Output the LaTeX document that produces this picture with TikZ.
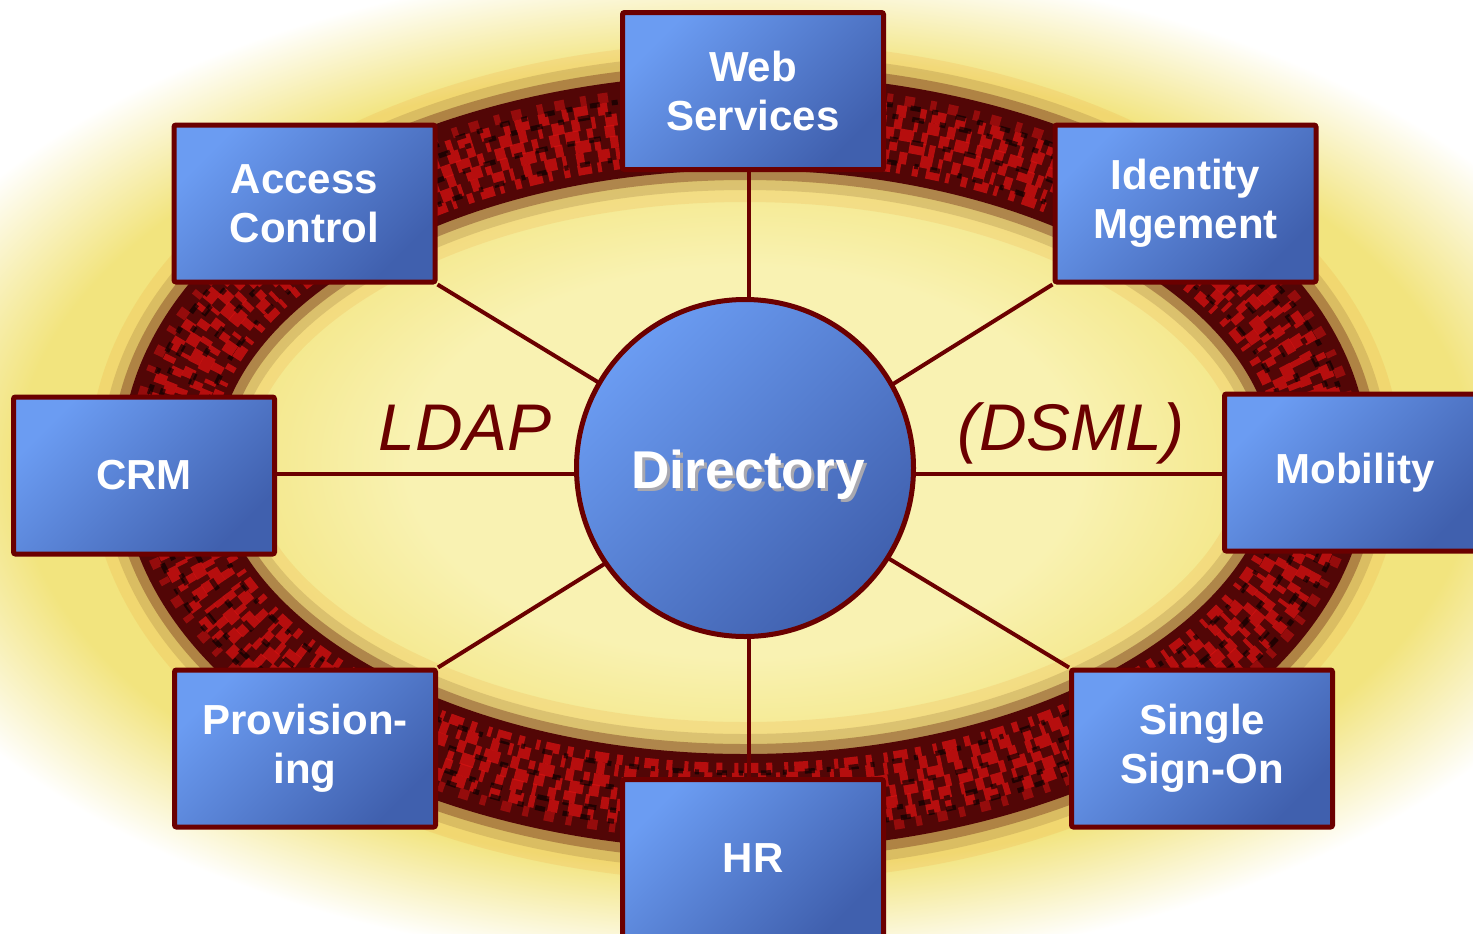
\documentclass[tikz,border=0pt]{standalone}
\usepackage{fontspec}
\setmainfont{Liberation Sans}
\usetikzlibrary{shapes.geometric}
\definecolor{bgyel}{HTML}{F2E47E}
\definecolor{inyel}{HTML}{F9F2B2}
\definecolor{ringred}{HTML}{520606}
\definecolor{linered}{HTML}{6B0000}
\definecolor{brightred}{HTML}{D81212}
\definecolor{boxlight}{HTML}{6B9CF2}
\definecolor{boxdark}{HTML}{4060AE}
\definecolor{shadowgray}{HTML}{A8A8B0}
\pgfdeclareradialshading{glow}{\pgfpointorigin}{color(0bp)=(bgyel); color(20bp)=(bgyel); color(25bp)=(white); color(50bp)=(white)}
\pgfdeclareradialshading{innerglow}{\pgfpointorigin}{color(0bp)=(inyel); color(15bp)=(inyel); color(25bp)=(bgyel); color(50bp)=(bgyel)}
\pgfdeclarelayer{bg}
\pgfdeclarelayer{conn}
\pgfsetlayers{bg,conn,main}
\tikzset{
  boxnode/.style={draw=linered, line width=2.5pt, rounded corners=1pt,
    top color=boxlight, bottom color=boxdark, shading angle=45,
    minimum width=130.5pt, minimum height=78.5pt, inner sep=0pt,
    align=center, text=white, font=\bfseries\fontsize{21pt}{24.5pt}\selectfont},
  hubnode/.style={circle, draw=linered, line width=2.5pt,
    top color=boxlight, bottom color=boxdark, shading angle=45,
    minimum size=168.5pt, inner sep=0pt},
  dirtext/.style={anchor=base, font=\bfseries\fontsize{26.6pt}{30pt}\selectfont},
  proto/.style={anchor=base, text=linered, font=\itshape\fontsize{33pt}{36pt}\selectfont},
  connector/.style={draw=linered, line width=2pt},
  ringpath/.style={x radius=576, y radius=340},
  redtex/.style={draw=brightred, opacity=.75},
  blacktex/.style={draw=black, opacity=.6},
}
\begin{document}
\begin{tikzpicture}[x=0.5pt,y=-0.5pt]
\useasboundingbox (0,0) rectangle (1473,933);
\begin{pgfonlayer}{bg}
  \clip (0,0) rectangle (1473,933);
  \fill[white] (0,0) rectangle (1473,933);
  \shade[shading=glow] (745,465) ellipse [x radius=910, y radius=505];
  \shade[shading=innerglow] (745,462) ellipse [x radius=560, y radius=325];
  % soft halo of the ring
  \draw[line width=80pt, draw=orange!70!brown, opacity=.12] (745,462) ellipse [ringpath];
  \draw[line width=68pt, draw=brown!60!black, opacity=.18] (745,462) ellipse [ringpath];
  \draw[line width=58pt, draw=black!70!red, opacity=.3] (745,462) ellipse [ringpath];
  \draw[line width=48pt, draw=ringred] (745,462) ellipse [ringpath];
  % mottled texture
  \draw[redtex, line width=5pt, dash pattern=on 3pt off 4pt on 7pt off 3pt on 2pt off 6pt] (745,462) ellipse [x radius=540, y radius=306];
  \draw[redtex, line width=6pt, dash pattern=on 6pt off 3pt on 2pt off 5pt on 4pt off 7pt, dash phase=3pt] (745,462) ellipse [x radius=552, y radius=317];
  \draw[redtex, line width=6pt, dash pattern=on 4pt off 6pt on 8pt off 2pt on 3pt off 5pt, dash phase=5pt] (745,462) ellipse [x radius=564, y radius=329];
  \draw[redtex, line width=6pt, dash pattern=on 7pt off 4pt on 3pt off 6pt on 5pt off 3pt, dash phase=1pt] (745,462) ellipse [x radius=576, y radius=340];
  \draw[redtex, line width=6pt, dash pattern=on 2pt off 5pt on 6pt off 4pt on 4pt off 6pt, dash phase=6pt] (745,462) ellipse [x radius=588, y radius=351];
  \draw[redtex, line width=6pt, dash pattern=on 5pt off 7pt on 3pt off 3pt on 7pt off 5pt, dash phase=2pt] (745,462) ellipse [x radius=600, y radius=363];
  \draw[redtex, line width=5pt, opacity=.5, dash pattern=on 3pt off 6pt on 5pt off 8pt, dash phase=4pt] (745,462) ellipse [x radius=612, y radius=374];
  \draw[blacktex, line width=2.5pt, dash pattern=on 5pt off 9pt on 2pt off 6pt] (745,462) ellipse [x radius=546, y radius=311];
  \draw[blacktex, line width=2.5pt, dash pattern=on 4pt off 7pt on 6pt off 10pt, dash phase=5pt] (745,462) ellipse [x radius=570, y radius=334];
  \draw[blacktex, line width=2.5pt, dash pattern=on 6pt off 8pt on 3pt off 7pt, dash phase=2pt] (745,462) ellipse [x radius=594, y radius=357];
  \draw[blacktex, line width=2.5pt, dash pattern=on 3pt off 9pt on 5pt off 6pt, dash phase=6pt] (745,462) ellipse [x radius=606, y radius=368];
\end{pgfonlayer}

\node[hubnode] (dir) at (745,468) {};
\node[dirtext, text=shadowgray] (dirshadow) at (751,491) {Directory};
\node[dirtext, text=white] (dirlabel) at (748,488) {Directory};

\node[boxnode] (ws) at (753,91) {Web\\Services};
\node[boxnode] (ac) at (304.5,203.5) {Access\\Control};
\node[boxnode] (im) at (1185.5,203.5) {Identity\\Mgement};
\node[boxnode] (crm) at (144,475.5) {CRM};
\node[boxnode] (mob) at (1355,472.5) {Mobility};
\node[boxnode] (prov) at (305,748.5) {Provision-\\ing};
\node[boxnode] (sso) at (1202,748.5) {Single\\Sign-On};
\node[boxnode] (hr) at (753,858) {HR};

\node[proto] (ldap) at (465,450) {LDAP};
\node[proto] (dsml) at (1071,450) {(DSML)};

\coordinate (hub) at (749,474);
\begin{pgfonlayer}{conn}
  \draw[connector] (hub) -- (hub |- ws.south);
  \draw[connector] (hub) -- (hub |- hr.north);
  \draw[connector] (hub) -- (hub -| crm.east);
  \draw[connector] (hub) -- (hub -| mob.west);
  \draw[connector] (hub) -- (ac.south east);
  \draw[connector] (hub) -- (im.south west);
  \draw[connector] (hub) -- (prov.north east);
  \draw[connector] (hub) -- (sso.north west);
\end{pgfonlayer}
\end{tikzpicture}
\end{document}
